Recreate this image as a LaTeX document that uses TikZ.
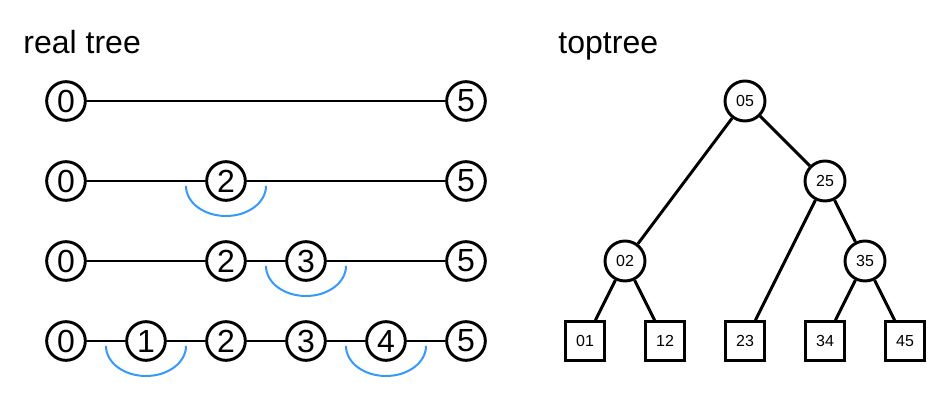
\documentclass[tikz,border=0pt]{standalone}
\usepackage{fontspec}
\setmainfont{Liberation Sans}
\usetikzlibrary{positioning}
\definecolor{cutblue}{RGB}{51,153,255}

\begin{document}
\begin{tikzpicture}[x=0.75pt, y=-0.75pt, line width=2.2pt,
  big/.style={draw, circle, inner sep=0pt, minimum size=29pt, font=\fontsize{24}{24}\selectfont},
  small/.style={draw, circle, inner sep=0pt, minimum size=30pt, font=\fontsize{12}{12}\selectfont},
  leaf/.style={draw, rectangle, inner sep=0pt, minimum size=29pt, font=\fontsize{12}{12}\selectfont},
  title/.style={anchor=base west, inner sep=0pt, font=\fontsize{24}{24}\selectfont},
  cut/.style={cutblue, line width=1.5pt}]
\useasboundingbox (0,0) rectangle (946,402);
\node[title] (realt) at (22,54) {real tree};
\node[title] (topt) at (557,54) {toptree};
% real tree
\node[big] (a0) at (66,101) {0};
\node[big] (a5) at (466,101) {5};
\draw (a0) -- (a5);
\node[big] (b0) at (66,181) {0};
\node[big] (b2) at (226,181) {2};
\node[big] (b5) at (466,181) {5};
\draw (b0) -- (b2) -- (b5);
\node[big] (c0) at (66,261) {0};
\node[big] (c2) at (226,261) {2};
\node[big] (c3) at (306,261) {3};
\node[big] (c5) at (466,261) {5};
\draw (c0) -- (c2) -- (c3) -- (c5);
\node[big] (d0) at (66,341) {0};
\node[big] (d1) at (146,341) {1};
\node[big] (d2) at (226,341) {2};
\node[big] (d3) at (306,341) {3};
\node[big] (d4) at (386,341) {4};
\node[big] (d5) at (466,341) {5};
\draw (d0) -- (d1) -- (d2) -- (d3) -- (d4) -- (d5);
\draw[cut] (b2.center) ++(-40,5) arc[start angle=180, end angle=0, x radius=40, y radius=30];
\draw[cut] (c3.center) ++(-40,5) arc[start angle=180, end angle=0, x radius=40, y radius=30];
\draw[cut] (d1.center) ++(-40,5) arc[start angle=180, end angle=0, x radius=40, y radius=30];
\draw[cut] (d4.center) ++(-40,5) arc[start angle=180, end angle=0, x radius=40, y radius=30];
% toptree
\node[small] (t05) at (745,101) {05};
\node[small] (t25) at (825,181) {25};
\node[small] (t02) at (625,261) {02};
\node[small] (t35) at (865,261) {35};
\node[leaf] (l01) at (585,341) {01};
\node[leaf] (l12) at (665,341) {12};
\node[leaf] (l23) at (745,341) {23};
\node[leaf] (l34) at (825,341) {34};
\node[leaf] (l45) at (905,341) {45};
\draw (t05) -- (t02); \draw (t05) -- (t25);
\draw (t02) -- (l01); \draw (t02) -- (l12);
\draw (t25) -- (l23); \draw (t25) -- (t35);
\draw (t35) -- (l34); \draw (t35) -- (l45);
\end{tikzpicture}
\end{document}
